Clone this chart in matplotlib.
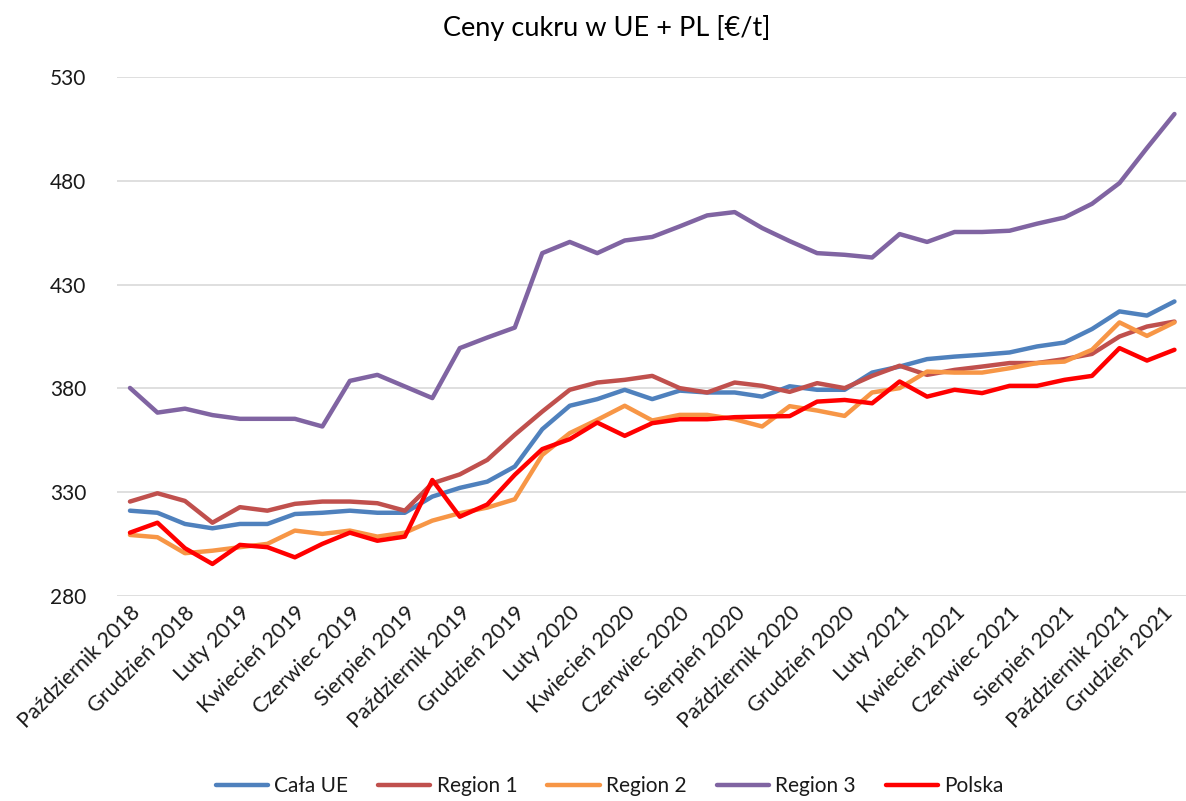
"""Ceny cukru w UE + PL — wykres liniowy"""

import matplotlib
matplotlib.use("Agg")
import matplotlib.pyplot as plt
import matplotlib.transforms as mtransforms

plt.rcParams["font.family"] = ["Lato", "DejaVu Sans"]

months = [
    "Październik 2018", "Listopad 2018", "Grudzień 2018",
    "Styczeń 2019", "Luty 2019", "Marzec 2019", "Kwiecień 2019", "Maj 2019",
    "Czerwiec 2019", "Lipiec 2019", "Sierpień 2019", "Wrzesień 2019",
    "Październik 2019", "Listopad 2019", "Grudzień 2019",
    "Styczeń 2020", "Luty 2020", "Marzec 2020", "Kwiecień 2020", "Maj 2020",
    "Czerwiec 2020", "Lipiec 2020", "Sierpień 2020", "Wrzesień 2020",
    "Październik 2020", "Listopad 2020", "Grudzień 2020",
    "Styczeń 2021", "Luty 2021", "Marzec 2021", "Kwiecień 2021", "Maj 2021",
    "Czerwiec 2021", "Lipiec 2021", "Sierpień 2021", "Wrzesień 2021",
    "Październik 2021", "Listopad 2021", "Grudzień 2021",
]

cala_ue = [321, 320, 314.6, 312.5, 314.6, 314.6, 319.4, 320, 321, 320, 320,
           327.8, 332, 335, 342.3, 360.3, 371.6, 374.8, 379.3, 374.8, 378.9,
           378, 378, 376, 381, 379.3, 379.3, 387.6, 390.5, 394.1, 395.3,
           396.2, 397.3, 400.2, 402.1, 408.6, 417.1, 415.1, 421.9]
region_1 = [325.4, 329.4, 325.7, 315.2, 322.7, 321, 324.3, 325.4, 325.4,
            324.6, 321, 334.2, 338.5, 345.5, 357.6, 368.8, 379.3, 382.8,
            384.1, 386, 380.1, 378, 382.8, 381.2, 378.3, 382.5, 380.1, 386,
            390.9, 386.5, 388.9, 390.5, 392.2, 392.2, 394.1, 396.6, 405,
            409.8, 412.2]
region_2 = [309.3, 308.2, 300.5, 301.7, 303.4, 305, 311.4, 309.8, 311.4,
            308.5, 310.4, 316.2, 319.8, 322.5, 326.5, 347.9, 358.4, 364.8,
            371.6, 364.5, 367.2, 367.2, 365.1, 361.6, 371.4, 369.3, 366.7,
            378, 380.1, 388.1, 387.6, 387.6, 389.7, 392.2, 392.9, 398.6,
            411.8, 405.3, 411.8]
region_3 = [380.2, 368.3, 370.2, 367.1, 365.3, 365.3, 365.3, 361.6, 383.6,
            386.5, 380.9, 375.3, 399.4, 404.5, 409.3, 445.2, 450.6, 445.2,
            451.3, 453, 458.1, 463.4, 465, 457.3, 451, 445.2, 444.4, 443.1,
            454.4, 450.6, 455.4, 455.4, 456, 459.4, 462.4, 469, 479, 495.9,
            512.3]
polska = [310.4, 315.2, 302.9, 295.3, 304.5, 303.4, 298.5, 305, 310.4, 306.5,
          308.5, 335.8, 318.1, 324, 338.3, 350.7, 355.5, 363.5, 357.1, 363.2,
          365.1, 365.1, 366.1, 366.4, 366.6, 373.6, 374.4, 372.8, 383.3, 376,
          379.3, 377.7, 381.2, 381.2, 384.1, 386, 399.4, 393.4, 398.6]

series = [
    ("Cała UE", cala_ue, "#4F81BD"),
    ("Region 1", region_1, "#C0504D"),
    ("Region 2", region_2, "#F79646"),
    ("Region 3", region_3, "#8064A2"),
    ("Polska", polska, "#FF0000"),
]
y_ticks = [280, 330, 380, 430, 480, 530]

TEXT = "#1A1A1A"


def main():
    fig = plt.figure(figsize=(11.86, 8.01), dpi=100)
    ax = fig.add_axes([0.0987, 0.2563, 0.9013, 0.6472])

    x = list(range(len(months)))
    for name, values, color in series:
        ax.plot(x, values, color=color, linewidth=3.2, label=name,
                solid_joinstyle="round", solid_capstyle="round")

    ax.set_xlim(-0.47, len(months) - 1 + 0.42)
    ax.set_ylim(280, 530)
    ax.set_yticks(y_ticks)
    ax.set_yticklabels([str(v) for v in y_ticks], fontsize=15, color=TEXT)
    ax.set_xticks(x[::2])
    labels = ax.set_xticklabels(months[::2], rotation=45, ha="right", va="top",
                                rotation_mode="anchor", fontsize=15.5,
                                color=TEXT)
    ax.tick_params(axis="both", length=0)
    ax.tick_params(axis="y", pad=22)
    ax.tick_params(axis="x", pad=5)

    # ostatnia etykieta lekko w lewo, żeby nie wychodziła poza obraz
    shift = mtransforms.ScaledTranslation(-12 / 100, 0, fig.dpi_scale_trans)
    labels[-1].set_transform(labels[-1].get_transform() + shift)

    ax.grid(axis="y", color="#D9D9D9", linewidth=1.2)
    ax.set_axisbelow(True)
    for side in ["top", "right", "left", "bottom"]:
        ax.spines[side].set_visible(False)

    fig.text(0.512, 1 - 28 / 801, "Ceny cukru w UE + PL [€/t]",
             ha="center", va="center", fontsize=19.5, color="#000000")

    fig.legend(loc="center", bbox_to_anchor=(0.514, 15 / 801), ncol=5,
               frameon=False, fontsize=15, handlelength=2.5,
               columnspacing=1.45, handletextpad=0.3, labelcolor=TEXT)

    fig.savefig("out.png", dpi=100)
    plt.close(fig)


if __name__ == "__main__":
    main()
